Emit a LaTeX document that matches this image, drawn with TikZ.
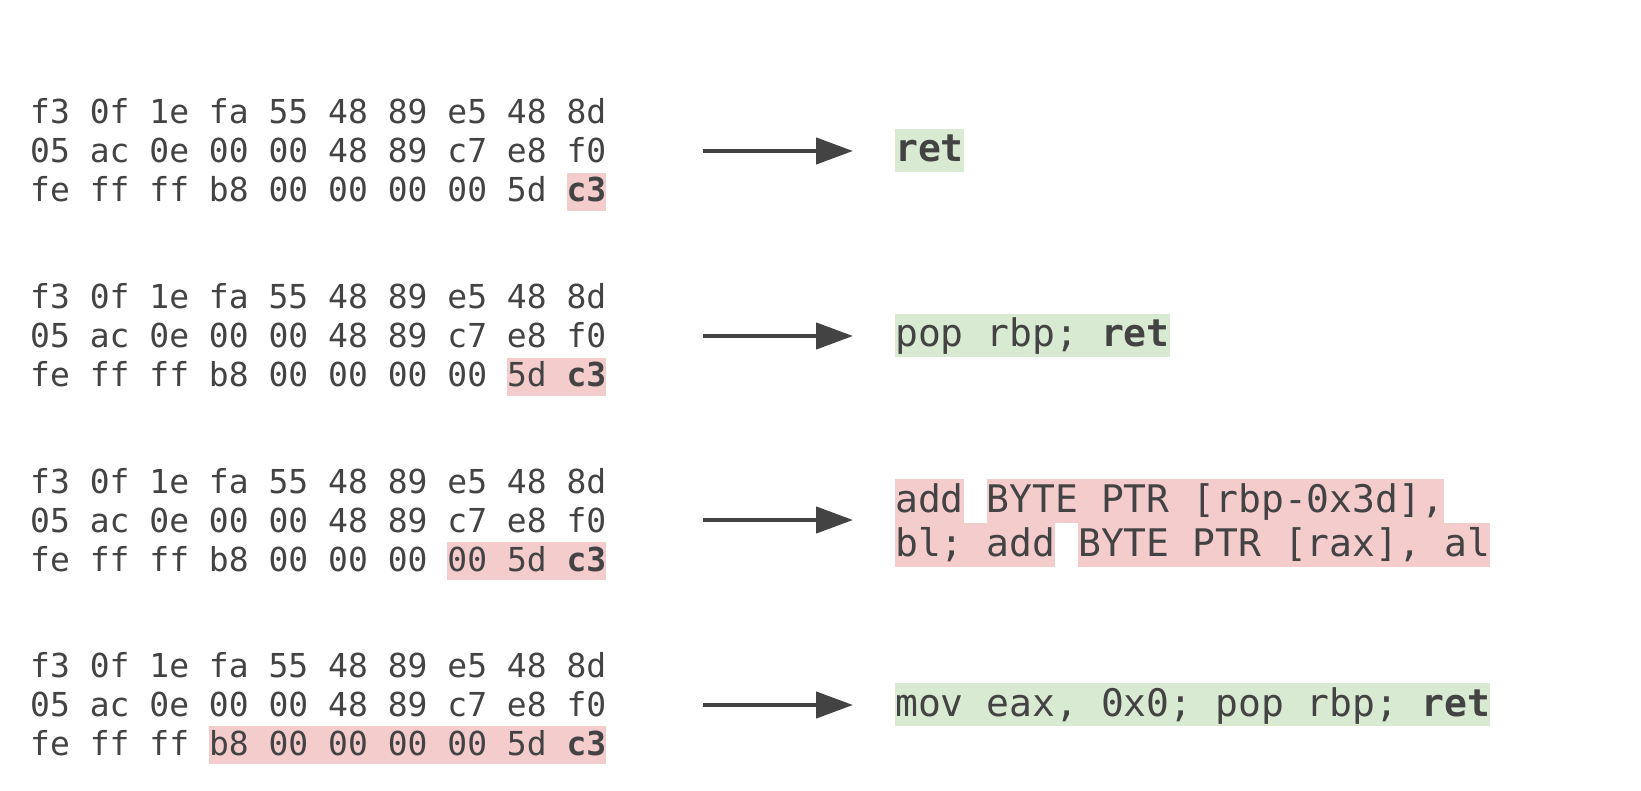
\documentclass[tikz,border=0pt]{standalone}
\usepackage{fontspec}
\setmonofont{DejaVu Sans Mono}[WordSpace={1,0,0}]
\usetikzlibrary{arrows.meta}
\definecolor{txtgray}{HTML}{434343}
\definecolor{hlred}{HTML}{F4CCCC}
\definecolor{hlgreen}{HTML}{D9EAD3}
\newcommand{\hlr}[1]{{\setlength{\fboxsep}{0pt}\colorbox{hlred}{\rule[-0.28em]{0pt}{1.16em}#1}}}
\newcommand{\hlg}[1]{{\setlength{\fboxsep}{0pt}\colorbox{hlgreen}{\rule[-0.27em]{0pt}{1.13em}#1}}}
\begin{document}
\begin{tikzpicture}
    [x=1pt, y=-1pt,
      hex/.style={anchor=base west, inner sep=0pt, text=txtgray,
          font=\ttfamily\fontsize{33}{39}\selectfont},
      asm/.style={anchor=base west, inner sep=0pt, text=txtgray,
          font=\ttfamily\fontsize{38}{44}\selectfont},
      arr/.style={-{Triangle[length=37pt,width=26pt]}, line width=4.5pt, draw=txtgray}]
    \useasboundingbox (0,0) rectangle (1641,791);
    % ret
    \node[hex] (h1a) at (30,124) {f3 0f 1e fa 55 48 89 e5 48 8d};
    \node[hex] (h1b) at (30,163) {05 ac 0e 00 00 48 89 c7 e8 f0};
    \node[hex] (h1c) at (30,202) {fe ff ff b8 00 00 00 00 5d \hlr{\textbf{c3}}};
    \coordinate (a1) at (703,151);
    \coordinate (b1) at (853,151);
    \draw[arr] (a1) -- (b1);
    \node[asm] (r1) at (895,162) {\hlg{\textbf{ret}}};
    % pop rbp; ret
    \node[hex] (h2a) at (30,309) {f3 0f 1e fa 55 48 89 e5 48 8d};
    \node[hex] (h2b) at (30,348) {05 ac 0e 00 00 48 89 c7 e8 f0};
    \node[hex] (h2c) at (30,387) {fe ff ff b8 00 00 00 00 \hlr{5d \textbf{c3}}};
    \coordinate (a2) at (703,336);
    \coordinate (b2) at (853,336);
    \draw[arr] (a2) -- (b2);
    \node[asm] (r2) at (895,347) {\hlg{pop rbp; \textbf{ret}}};
    % add ...
    \node[hex] (h3a) at (30,493) {f3 0f 1e fa 55 48 89 e5 48 8d};
    \node[hex] (h3b) at (30,532) {05 ac 0e 00 00 48 89 c7 e8 f0};
    \node[hex] (h3c) at (30,571) {fe ff ff b8 00 00 00 \hlr{00 5d \textbf{c3}}};
    \coordinate (a3) at (703,520);
    \coordinate (b3) at (853,520);
    \draw[arr] (a3) -- (b3);
    \node[asm] (r3a) at (895,512) {\hlr{add} \hlr{BYTE PTR [rbp-0x3d],}};
    \node[asm] (r3b) at (895,556) {\hlr{bl; add} \hlr{BYTE PTR [rax], al}};
    % mov eax, 0x0; pop rbp; ret
    \node[hex] (h4a) at (30,677) {f3 0f 1e fa 55 48 89 e5 48 8d};
    \node[hex] (h4b) at (30,716) {05 ac 0e 00 00 48 89 c7 e8 f0};
    \node[hex] (h4c) at (30,755) {fe ff ff \hlr{b8 00 00 00 00 5d \textbf{c3}}};
    \coordinate (a4) at (703,705);
    \coordinate (b4) at (853,705);
    \draw[arr] (a4) -- (b4);
    \node[asm] (r4) at (895,716) {\hlg{mov eax, 0x0; pop rbp; \textbf{ret}}};
\end{tikzpicture}
\end{document}
